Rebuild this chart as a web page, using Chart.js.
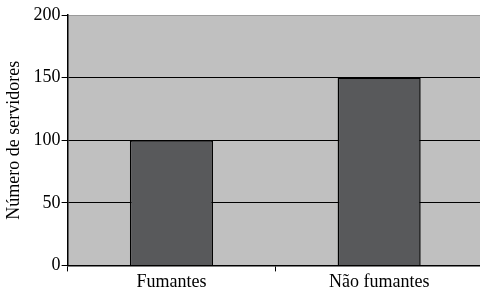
<!DOCTYPE html>
<html>
<head>
<meta charset="utf-8">
<script src="https://cdn.jsdelivr.net/npm/chart.js@4"></script>
<style>
  html, body { margin: 0; padding: 0; background: #fff; overflow: hidden; }
  #wrap { width: 483px; height: 293px; }
</style>
</head>
<body>
<div id="wrap"><canvas id="chart" width="483" height="293"></canvas></div>
<script>
// DATA
const categories = ["Fumantes", "Não fumantes"];
const servidores = [100, 150];
const yTicks = [0, 50, 100, 150, 200];

// gray plot background
const plotBackground = {
  id: "plotBackground",
  beforeDraw(chart) {
    const { ctx, chartArea: a } = chart;
    ctx.save();
    ctx.fillStyle = "#c0c0c0";
    ctx.fillRect(a.left, a.top, a.right - a.left, a.bottom - a.top);
    ctx.restore();
  }
};

new Chart(document.getElementById("chart"), {
  type: "bar",
  data: {
    labels: categories,
    datasets: [{
      data: servidores,
      backgroundColor: "#58595b",
      borderColor: "#000000",
      borderWidth: 1.5,
      barPercentage: 0.4,
      categoryPercentage: 1
    }]
  },
  options: {
    responsive: false,
    animation: false,
    layout: { padding: { top: 15, left: 3, right: 0, bottom: 0 } },
    plugins: {
      legend: { display: false },
      tooltip: { enabled: false }
    },
    scales: {
      x: {
        grid: {
          offset: true,
          drawOnChartArea: false,
          color: "#000",
          tickLength: 6
        },
        border: { color: "#000", width: 1.5 },
        ticks: {
          color: "#000",
          padding: 0,
          font: { family: "Liberation Serif", size: 18 }
        }
      },
      y: {
        min: 0,
        max: 200,
        afterBuildTicks: (axis) => {
          axis.ticks = yTicks.map(v => ({ value: v }));
        },
        grid: {
          color: (c) => c.tick && c.tick.value === 200 ? "#9a9a9a" : "#000",
          lineWidth: 1,
          tickLength: 6,
          tickColor: "#000"
        },
        border: { color: "#000", width: 1.5 },
        ticks: {
          color: "#000",
          padding: 1,
          font: { family: "Liberation Serif", size: 18 }
        },
        title: {
          display: true,
          text: "Número de servidores",
          color: "#000",
          padding: { top: 0, bottom: 8 },
          font: { family: "Liberation Serif", size: 18 }
        }
      }
    }
  },
  plugins: [plotBackground]
});
</script>
</body>
</html>
